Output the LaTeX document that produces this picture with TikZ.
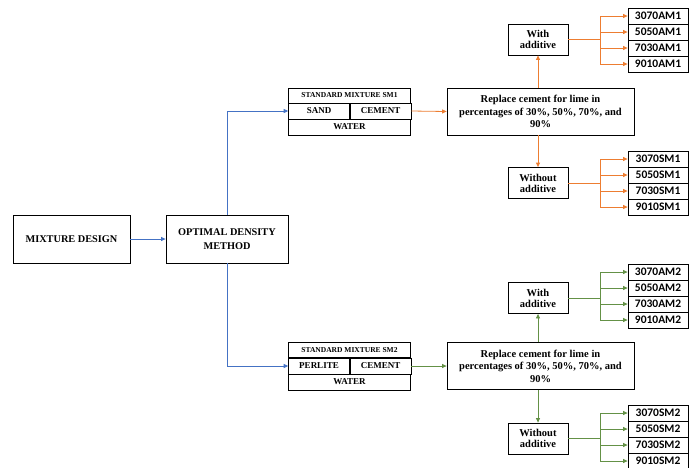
\documentclass[tikz,border=0pt]{standalone}
\usepackage{fontspec}
\setmainfont{Liberation Serif}
\newfontfamily\calib{Carlito}
\usetikzlibrary{arrows.meta}
\definecolor{bl}{RGB}{68,114,196}
\definecolor{orng}{RGB}{237,125,49}
\definecolor{grn}{RGB}{100,145,70}
\tikzset{
	box/.style={draw, line width=0.8pt, align=center, inner sep=1pt},
	cell/.style={draw, line width=0.6pt, inner sep=0pt, minimum height=16pt, font=\bfseries\fontsize{9}{10}\selectfont},
	head/.style={draw, line width=0.6pt, inner sep=0pt, minimum width=122pt, minimum height=15pt, font=\bfseries\fontsize{7.5}{9}\selectfont},
	choice/.style={box, minimum width=60pt, minimum height=31pt, font=\bfseries\fontsize{10.5}{11}\selectfont},
	res/.style={draw, line width=0.8pt, minimum width=60pt, minimum height=16pt, inner sep=0pt, font=\calib\bfseries\fontsize{11.5}{12}\selectfont},
}
\begin{document}
\begin{tikzpicture}[x=1pt, y=-1pt, >={Triangle[length=4.5pt,width=4pt]}, line width=0.8pt]
		\useasboundingbox (0,0) rectangle (695,467);
		\node[box, minimum width=117pt, minimum height=48pt, font=\bfseries\fontsize{10.3}{13}\selectfont] (M) at (71.5,239) {MIXTURE DESIGN};
		\node[box, minimum width=122pt, minimum height=48pt, font=\bfseries\fontsize{10.3}{13.3}\selectfont] (O) at (227,239) {OPTIMAL DENSITY\\METHOD};
		
		% standard mixture 1
		\node[head] (H1) at (349.5,95.5) {STANDARD MIXTURE SM1};
		\node[cell, minimum width=61pt] (S1) at (319,111) {SAND};
		\node[cell, minimum width=61pt] (C1) at (380.5,111) {CEMENT};
		\node[cell, minimum width=122pt] (A1) at (349.5,127) {WATER};
		
		% standard mixture 2
		\node[head] (H2) at (349.5,350) {STANDARD MIXTURE SM2};
		\node[cell, minimum width=61pt] (P2) at (319,366) {PERLITE};
		\node[cell, minimum width=61pt] (C2) at (380.5,366) {CEMENT};
		\node[cell, minimum width=122pt] (A2) at (349.5,382) {WATER};
		
		\node[box, minimum width=187pt, minimum height=47pt, font=\bfseries\fontsize{10.5}{12.5}\selectfont] (R1) at (540.5,111.5) {Replace cement for lime in\\percentages of 30\%, 50\%, 70\%, and\\90\%};
		\node[box, minimum width=187pt, minimum height=47pt, font=\bfseries\fontsize{10.5}{12.5}\selectfont] (R2) at (540.5,366) {Replace cement for lime in\\percentages of 30\%, 50\%, 70\%, and\\90\%};
		
		\node[choice] (W1) at (538,39.5) {With\\additive};
		\node[choice] (N1) at (538,183) {Without\\additive};
		\node[choice] (W2) at (538,298) {With\\additive};
		\node[choice] (N2) at (538,438.5) {Without\\additive};
		
		\node[res] (a1) at (658,16) {3070AM1};
		\node[res] (a2) at (658,32) {5050AM1};
		\node[res] (a3) at (658,48) {7030AM1};
		\node[res] (a4) at (658,64) {9010AM1};
		\node[res] (b1) at (658,159) {3070SM1};
		\node[res] (b2) at (658,175) {5050SM1};
		\node[res] (b3) at (658,191) {7030SM1};
		\node[res] (b4) at (658,207) {9010SM1};
		\node[res] (c1) at (658,272) {3070AM2};
		\node[res] (c2) at (658,288) {5050AM2};
		\node[res] (c3) at (658,304) {7030AM2};
		\node[res] (c4) at (658,320) {9010AM2};
		\node[res] (d1) at (658,413) {3070SM2};
		\node[res] (d2) at (658,429) {5050SM2};
		\node[res] (d3) at (658,445) {7030SM2};
		\node[res] (d4) at (658,461) {9010SM2};
		
		\coordinate (jw1) at (600,39.5);
		\coordinate (jn1) at (600,183);
		\coordinate (jw2) at (600,298);
		\coordinate (jn2) at (600,438.5);
		
		\draw[->, bl] (M) -- (O);
		\draw[->, bl] (O.north) |- (S1.west);
		\draw[->, bl] (O.south) |- (P2.west);
		
		\draw[->, orng] (C1.east) -- (R1.west);
		\draw[->, orng] (R1.north -| W1) -- (W1.south);
		\draw[->, orng] (R1.south -| N1) -- (N1.north);
		\draw[->, orng] (W1.east) -- (jw1) |- (a1.west);
		\draw[->, orng] (W1.east) -- (jw1) |- (a2.west);
		\draw[->, orng] (W1.east) -- (jw1) |- (a3.west);
		\draw[->, orng] (W1.east) -- (jw1) |- (a4.west);
		\draw[->, orng] (N1.east) -- (jn1) |- (b1.west);
		\draw[->, orng] (N1.east) -- (jn1) |- (b2.west);
		\draw[->, orng] (N1.east) -- (jn1) |- (b3.west);
		\draw[->, orng] (N1.east) -- (jn1) |- (b4.west);
		
		\draw[->, grn] (C2.east) -- (R2.west);
		\draw[->, grn] (R2.north -| W2) -- (W2.south);
		\draw[->, grn] (R2.south -| N2) -- (N2.north);
		\draw[->, grn] (W2.east) -- (jw2) |- (c1.west);
		\draw[->, grn] (W2.east) -- (jw2) |- (c2.west);
		\draw[->, grn] (W2.east) -- (jw2) |- (c3.west);
		\draw[->, grn] (W2.east) -- (jw2) |- (c4.west);
		\draw[->, grn] (N2.east) -- (jn2) |- (d1.west);
		\draw[->, grn] (N2.east) -- (jn2) |- (d2.west);
		\draw[->, grn] (N2.east) -- (jn2) |- (d3.west);
		\draw[->, grn] (N2.east) -- (jn2) |- (d4.west);
\end{tikzpicture}
\end{document}
